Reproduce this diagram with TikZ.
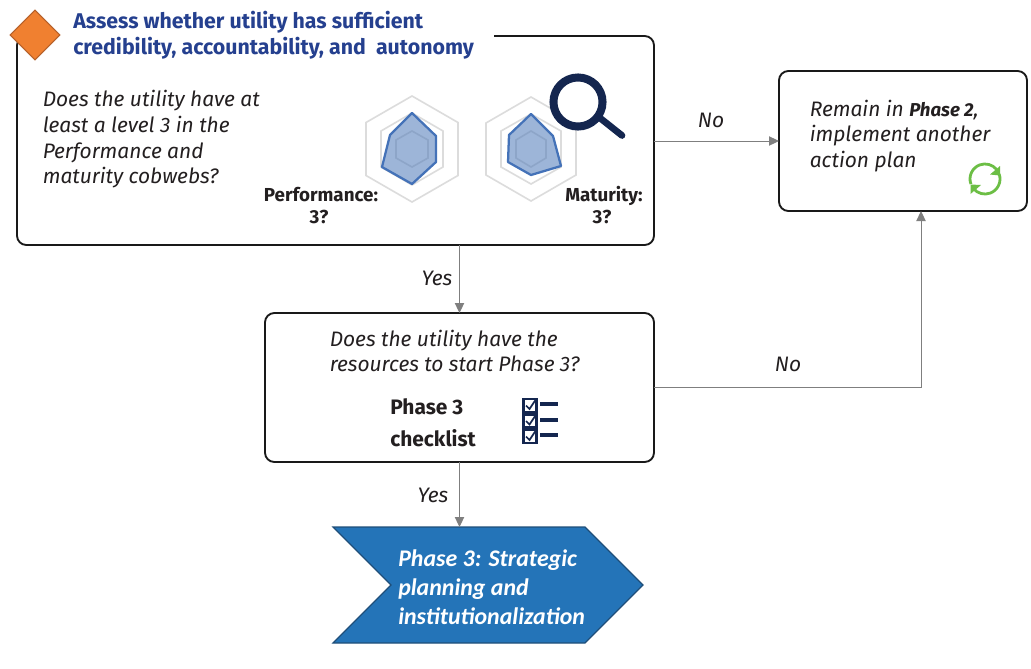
\documentclass[tikz,border=0pt]{standalone}
\usepackage{fontspec}
\setmainfont{Fira Sans}
\newfontfamily\chevfont{Carlito}
\usetikzlibrary{arrows.meta,shapes.geometric}
\definecolor{titleblue}{HTML}{25408F}
\definecolor{navy}{HTML}{14264F}
\definecolor{conn}{HTML}{7F7F7F}
\definecolor{txt}{HTML}{231F20}
\definecolor{chev}{HTML}{2474B8}
\definecolor{chevline}{HTML}{1F4E79}
\definecolor{radar}{HTML}{DCDCDC}
\definecolor{cobline}{HTML}{4472B8}
\definecolor{cobfill}{HTML}{9DB5D8}
\definecolor{cobinner}{HTML}{8DA5C8}
\definecolor{orangeD}{HTML}{F08030}
\definecolor{orangeL}{HTML}{B5602A}
\definecolor{greenI}{HTML}{6CBE45}
\tikzset{
  x=0.75pt,y=-0.75pt,
  boxstyle/.style={draw=black!90,line width=1.4pt,rounded corners=7pt,fill=white,inner sep=0,minimum width=0},
  conline/.style={draw=conn,line width=0.75pt,-{Triangle[length=7.5pt,width=7pt]}},
  body/.style={font=\fontsize{15.7}{19.3}\selectfont\itshape,text=txt,align=left,inner sep=0,anchor=north west},
  boldlab/.style={font=\fontsize{14.1}{16.5}\selectfont\bfseries,text=txt,align=center,inner sep=0},
  lab/.style={font=\fontsize{15.7}{18}\selectfont\itshape,text=txt,inner sep=0},
  hexa/.style={draw=radar,line width=1.2pt},
  cob/.style={draw=cobline,fill=cobfill,line width=1.7pt,line join=round},
  navyline/.style={draw=navy,line cap=round},
}
\begin{document}
\begin{tikzpicture}
\useasboundingbox (0,0) rectangle (1031,668);
% boxes
\node[boxstyle,minimum width=477.75pt,minimum height=156.75pt] (main) at (335.5,140.5) {};
\node[boxstyle,minimum width=291.75pt,minimum height=111.75pt] (res) at (459.5,387.5) {};
\node[boxstyle,minimum width=186pt,minimum height=105pt] (stay) at (903,141) {};
% title over the box's top edge
\node[fill=white,inner sep=0,minimum width=327pt,minimum height=36pt,anchor=north west] (titlebg) at (58,8) {};
\node[font=\fontsize{16}{19.5}\selectfont\bfseries,text=titleblue,align=left,inner sep=0,anchor=north west] (title) at (73,10.5) {Assess whether utility has sufficient\\credibility, accountability, and\ \ autonomy};
\node[diamond,draw=orangeL,fill=orangeD,line width=0.8pt,inner sep=0,minimum width=37.5pt,minimum height=37.5pt] (dia) at (35,35) {};
% chevron
\filldraw[draw=chevline,fill=chev,line width=0.9pt] (333,527) coordinate (chevA) -- (585,527) -- (643,585) -- (585,643) -- (333,643) -- (391,585) -- cycle;
\coordinate (chevtop) at (459.5,527);
% connectors
\coordinate (mainE) at (654,141);
\coordinate (stayW) at (779,141);
\coordinate (mainS) at (459.5,245);
\coordinate (resN) at (459.5,313);
\coordinate (resE) at (654,387);
\coordinate (stayS) at (921,211);
\coordinate (resS) at (459.5,462);
\draw[conline] (mainE) -- (stayW);
\draw[conline] (mainS) -- (resN);
\draw[conline] (resE) -| (stayS);
\draw[conline] (resS) -- (chevtop);
% labels
\node[lab] (no1) at (711,120) {No};
\node[lab] (yes1) at (437,278) {Yes};
\node[lab] (no2) at (788,364) {No};
\node[lab] (yes2) at (433,495) {Yes};
% texts
\node[body] (q1) at (42.5,90) {Does the utility have at\\least a level 3 in the\\Performance and\\maturity cobwebs?};
\node[body] (q2) at (329.5,329.5) {Does the utility have the\\resources to start Phase 3?};
\node[body] (q3) at (809.5,99.5) {Remain in {\upshape\bfseries\itshape\fontsize{14}{19.3}\selectfont Phase 2},\\implement another\\action plan};
\node[font=\fontsize{15.7}{24}\selectfont\bfseries,text=txt,align=left,inner sep=0,anchor=north west] (chk) at (390,398) {Phase 3\\checklist};
\node[boldlab] (perf) at (321,205.5) {Performance:\\3?\hspace*{3pt}};
\node[boldlab] (mat) at (604,205.5) {Maturity:\\3?\hspace*{3pt}};
\node[font=\chevfont\fontsize{17.9}{21.8}\selectfont\bfseries\itshape,text=white,align=left,inner sep=0,anchor=north west] (ph3) at (398,549) {Phase 3: Strategic\\planning and\\institutionalization};
% left radar
\draw[hexa] (412,96)--(458,122.5)--(458,175.5)--(412,202)--(366,175.5)--(366,122.5)--cycle;
\draw[hexa] (412,113)--(443,131)--(443,167)--(412,185)--(381,167)--(381,131)--cycle;
\draw[cob] (412,113)--(436,136)--(436,162)--(412,184)--(382,167)--(390,135)--cycle;
\draw[draw=cobinner,line width=1.2pt] (412,131)--(428,140)--(428,158)--(412,167)--(396,158)--(396,140)--cycle;
% right radar
\draw[hexa] (531,97)--(576,123)--(576,175)--(531,201)--(486,175)--(486,123)--cycle;
\draw[hexa] (531,114)--(561,131)--(561,167)--(531,184)--(501,167)--(501,131)--cycle;
\draw[cob] (531,114)--(553,136)--(561,166)--(531,175)--(508,162)--(509,135)--cycle;
\draw[draw=cobinner,line width=1.2pt] (531,131)--(546,140)--(546,158)--(531,167)--(516,158)--(516,140)--cycle;
% magnifier
\fill[white] (578,102) circle (18pt);
\draw[navyline,line width=6pt] (578,102) circle (18.4pt);
\draw[navyline,line width=5pt] (600,118) -- (622,135.5);
% checklist
\foreach \yy in {399,414.5,430}{
  \draw[draw=navy,line width=1.6pt] (523.5,\yy) rectangle +(13,13);
  \draw[draw=navy,line width=1.3pt] (526,\yy+6.5) -- (529.5,\yy+10) -- (535.5,\yy+1);
}
\foreach \yy in {404,420,435}{
  \draw[draw=navy,line width=2.6pt] (540,\yy) -- (558,\yy);
}
% refresh icon
\draw[draw=greenI,line width=2.1pt] (970.9,184.1) arc (200:40:11.25pt);
\draw[draw=greenI,line width=2.1pt] (999.1,173.9) arc (20:-140:11.25pt);
\fill[greenI] (1000,166) -- (1000,175.5) -- (990,174.5) -- cycle;
\fill[greenI] (970.5,194) -- (970.5,184.5) -- (981,185) -- cycle;
\end{tikzpicture}
\end{document}
